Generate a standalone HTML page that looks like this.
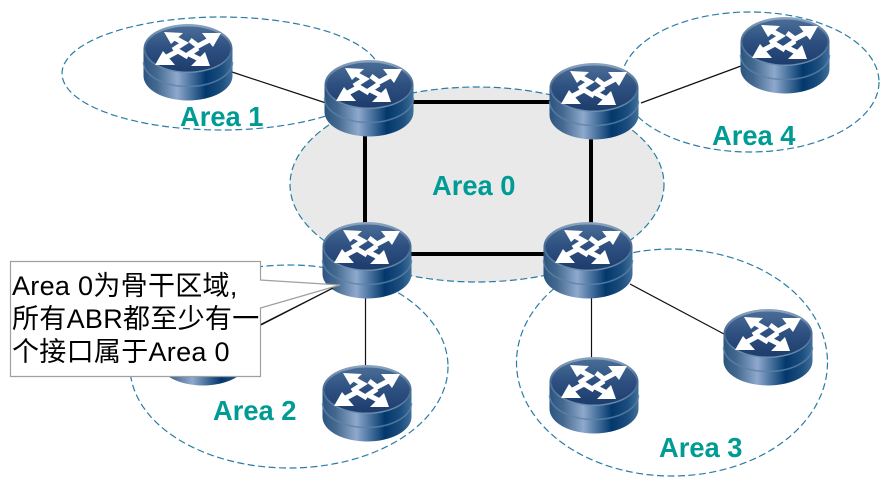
<!DOCTYPE html>
<html><head><meta charset="utf-8"><style>
html,body{margin:0;padding:0;background:#fff;width:890px;height:487px;overflow:hidden}
svg{display:block}
.a{font:bold 27.3px "Liberation Sans",sans-serif;fill:#009b94}
.t{font:27px "Liberation Sans","Noto Sans CJK SC",sans-serif;fill:#000;letter-spacing:.3px}
.d{fill:none;stroke:#2a7ca6;stroke-width:1.2;stroke-dasharray:7 3.5}
</style></head><body>
<svg width="890" height="487" viewBox="0 0 890 487" xmlns="http://www.w3.org/2000/svg">
<defs>
<linearGradient id="b" x1="0" x2="1" y1="0" y2="0">
<stop offset="0" stop-color="#2a5580"/><stop offset=".15" stop-color="#44698f"/><stop offset=".38" stop-color="#8fa9cc"/><stop offset=".52" stop-color="#4f77a3"/><stop offset=".7" stop-color="#03386c"/><stop offset=".88" stop-color="#1c4e7e"/><stop offset="1" stop-color="#41709b"/>
</linearGradient>
<linearGradient id="r" x1="0" x2="0" y1="0" y2="1">
<stop offset="0" stop-color="#8ea6c0"/><stop offset=".5" stop-color="#44688f"/><stop offset="1" stop-color="#6d8fb0"/>
</linearGradient>
<linearGradient id="c" x1="0" x2="0" y1="0" y2="1">
<stop offset="0" stop-color="#4a6d97"/><stop offset=".45" stop-color="#2f5282"/><stop offset="1" stop-color="#1d3c6c"/>
</linearGradient>
<symbol id="R" width="90" height="77" viewBox="0 0 90 77" overflow="visible">
<path d="M0.5,24V52A44.5,24.5 0 0 0 89.5,52V24Z" fill="url(#b)"/>
<path d="M0.5,38A44.5,24.5 0 0 0 89.5,38" fill="none" stroke="#5d82a8" stroke-width="1.6" opacity=".8"/>
<ellipse cx="45" cy="24.5" rx="44.5" ry="24.5" fill="url(#r)"/>
<ellipse cx="45" cy="25" rx="42.5" ry="22.5" fill="url(#c)"/>
<g fill="none" stroke="#fff" stroke-width="5">
<path d="M30,26L41,19L28,12"/><path d="M47,16L55,22L70,14"/><path d="M45,33L35,27L20,35"/><path d="M55,24L46,30L60,37"/>
</g>
<g fill="#fff">
<path d="M21,8L40,9L28,20Z"/><path d="M78,9L59,9L70,23Z"/><path d="M12,41L32,41L20,27Z"/><path d="M67,42L48,42L62,28Z"/>
</g>
</symbol>
</defs>

<ellipse cx="477" cy="184.500" rx="187" ry="97.500" fill="#e9e9e9" stroke="#2a7ca6" stroke-width="1.2" stroke-dasharray="7 3.500"/>
<ellipse class="d" cx="221" cy="73.500" rx="159" ry="56.500"/>
<ellipse class="d" cx="750" cy="82" rx="129" ry="70"/>
<ellipse class="d" cx="289" cy="366.500" rx="159" ry="101.500"/>
<ellipse class="d" cx="672" cy="362.500" rx="155.500" ry="113.500"/>

<g stroke="#000" stroke-width="4" fill="none">
<path d="M365,102H591V254H365Z"/>
</g>
<g stroke="#111" stroke-width="1.2" fill="none">
<path d="M232,72L326,103"/><path d="M641,103L741,66"/><path d="M630,284L724,334"/>
<path d="M591.500,298V358"/><path d="M365.500,298V366"/><path d="M333,288L230,340"/>
</g>

<use href="#R" x="143" y="24"/>
<use href="#R" x="324" y="60"/>
<use href="#R" x="549" y="63"/>
<use href="#R" x="740" y="17"/>
<use href="#R" x="322" y="222"/>
<use href="#R" x="543" y="222"/>
<use href="#R" x="322" y="365"/>
<use href="#R" x="549" y="357"/>
<use href="#R" x="723" y="309"/>
<use href="#R" x="158" y="309"/>

<text class="a" x="180" y="126">Area 1</text>
<text class="a" x="432" y="195">Area 0</text>
<text class="a" x="712" y="145">Area 4</text>
<text class="a" x="213" y="420">Area 2</text>
<text class="a" x="659" y="457">Area 3</text>

<path d="M10.500,261.500H260.500V280L340,285L260.500,308V376.500H10.500Z" fill="#fff" stroke="#a0a0a0" stroke-width="1.2"/>
<path d="M261,325L333,288" stroke="#111" stroke-width="1.2"/>
<text class="t" x="12" y="295">Area 0为骨干区域,</text>
<text class="t" x="12" y="328">所有ABR都至少有一</text>
<text class="t" x="12" y="361">个接口属于Area 0</text>
</svg>
</body></html>
